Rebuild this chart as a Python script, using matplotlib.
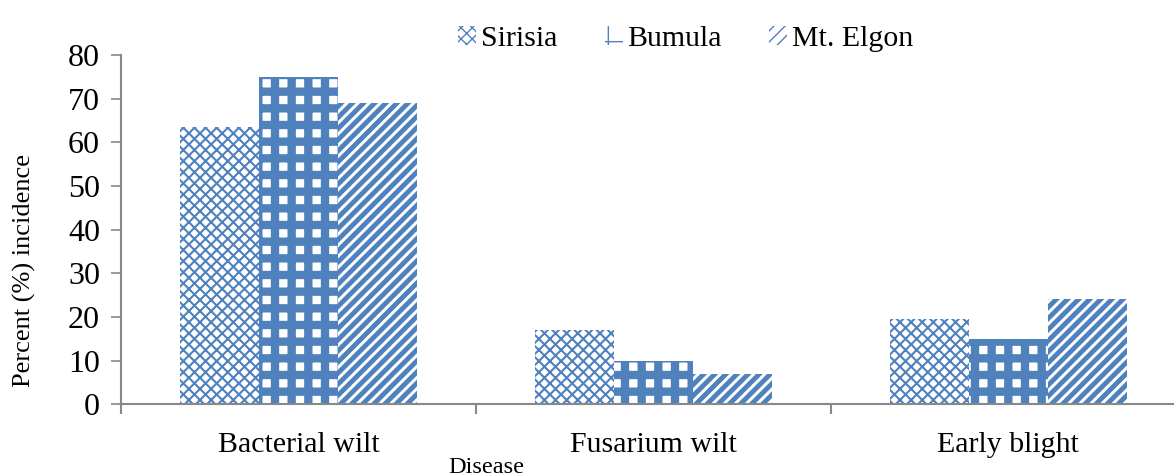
import numpy as np
import matplotlib.pyplot as plt

plt.rcParams['font.family'] = ['Liberation Serif', 'DejaVu Serif']

diseases = ['Bacterial wilt', 'Fusarium wilt', 'Early blight']
sirisia = [63.5, 17, 19.5]
bumula = [75, 10, 15]
elgon = [69, 7, 24]
series = ['Sirisia', 'Bumula', 'Mt. Elgon']

blue = '#4F81BD'
hatches = ['xxx', '+', '///']
hlw = [1.5, 6.0, 3.5]

fig = plt.figure(figsize=(11.74, 4.76), dpi=100)
# the plot runs past the right edge, as in the original image
ax = fig.add_axes([0.103, 0.151, 0.907, 0.733])

x = np.arange(len(diseases))
w = 0.2225
for i, (vals, name) in enumerate(zip([sirisia, bumula, elgon], series)):
    bars = ax.bar(x + (i - 1) * w, vals, w, facecolor='white', edgecolor=blue,
                  linewidth=0, hatch=hatches[i], label=name)
    for b in bars:
        b.set_hatch_linewidth(hlw[i])

ax.set_xlim(-0.5, 2.5)
ax.set_ylim(0, 80)
ax.set_yticks(range(0, 81, 10))
ax.tick_params(axis='y', labelsize=23, length=7, color='#888888', width=1.2, pad=8)
ax.set_xticks(x)
ax.set_xticklabels(diseases, fontsize=21.5)
ax.tick_params(axis='x', length=0, pad=20)
ax.set_xticks([-0.5, 0.5, 1.5, 2.5], minor=True)
ax.tick_params(axis='x', which='minor', length=7, color='#888888', width=1.5)
for s in ['top', 'right']:
    ax.spines[s].set_visible(False)
for s in ['left', 'bottom']:
    ax.spines[s].set_color('#888888')
    ax.spines[s].set_linewidth(1.5)

ax.set_ylabel('Percent (%) incidence', fontsize=19)
ax.yaxis.set_label_coords(-0.08, 0.384)
fig.text(0.414, -0.004, 'Disease', fontsize=17.5, ha='center', va='bottom')

leg = ax.legend(loc='lower center', ncol=3, frameon=False, fontsize=21.5,
                handlelength=0.6, handleheight=0.6, handletextpad=0.15,
                columnspacing=1.6, borderaxespad=0, borderpad=0)
leg.set_bbox_to_anchor((0.584, 0.89), transform=fig.transFigure)

fig.savefig('out.png', dpi=100)
